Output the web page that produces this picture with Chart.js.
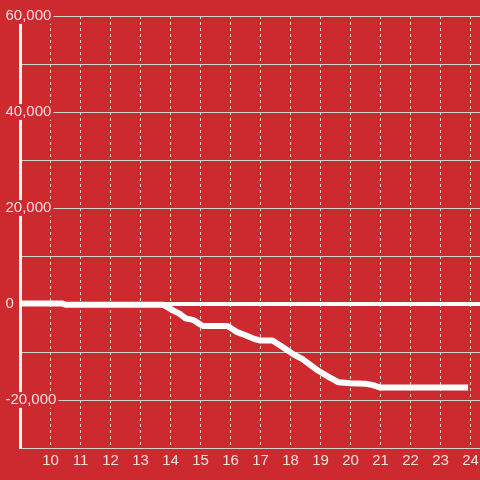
<!DOCTYPE html>
<html>
<head>
<meta charset="utf-8">
<script src="https://cdn.jsdelivr.net/npm/chart.js@4"></script>
<style>
  html, body { margin: 0; padding: 0; background: #cd2a2f; }
  #wrap { width: 480px; height: 480px; position: relative; }
</style>
</head>
<body>
<div id="wrap"><canvas id="chartCanvas"></canvas></div>
<script>
// hour of day and running total
const hours = [9.0, 10.4, 10.5, 13.75, 14.1, 14.3, 14.5, 14.75, 15.0, 15.1, 15.9, 16.2, 16.5, 16.8, 17.0, 17.4,
  17.75, 18.1, 18.4, 18.9, 19.3, 19.6, 20.0, 20.5, 20.75, 21.0, 23.92];
const totals = [100, 100, -150, -150, -1400, -2000, -3000, -3300, -4300, -4600, -4600, -5800, -6500, -7300, -7600, -7600,
  -9000, -10500, -11500, -13800, -15300, -16300, -16500, -16600, -16900, -17400, -17400];

const xMin = 9;
const xMax = 24.317;
const yMin = -30000;
const yMax = 60000;
const yLabelStep = 20000;

const labelColor = 'rgba(255,255,255,0.85)';
const gridColor = '#d2d2d2';
const bgColor = '#cd2a2f';
const font = { family: 'Liberation Sans, Arial, sans-serif', size: 15, lineHeight: 1.05 };

const points = hours.map((h, i) => ({ x: h, y: totals[i] }));

const ctx = document.getElementById('chartCanvas').getContext('2d');

new Chart(ctx, {
  type: 'line',
  data: {
    datasets: [{
      data: points,
      borderColor: '#ffffff',
      borderWidth: 6,
      borderJoinStyle: 'round',
      pointRadius: 0,
      tension: 0
    }]
  },
  options: {
    responsive: true,
    maintainAspectRatio: false,
    animation: false,
    layout: { padding: { top: 16, left: 5, right: 0, bottom: 0 } },
    plugins: { legend: { display: false }, tooltip: { enabled: false } },
    scales: {
      x: {
        type: 'linear',
        min: xMin,
        max: xMax,
        afterFit: (axis) => {
          axis.height = 32;
          axis.paddingLeft = 0;
          axis.paddingRight = 0;
        },
        border: { display: false, dash: [3, 3] },
        grid: {
          drawTicks: false,
          color: (c) => (c.tick && c.tick.value === xMin ? 'rgba(0,0,0,0)' : gridColor)
        },
        ticks: {
          stepSize: 1,
          includeBounds: false,
          padding: 5,
          color: labelColor,
          font: font,
          maxRotation: 0,
          autoSkip: false,
          callback: (v) => (v === xMin ? '' : v)
        }
      },
      y: {
        min: yMin,
        max: yMax,
        afterFit: (axis) => { axis.width = 15.5; },
        border: { display: true, color: '#f4f4f4', width: 3 },
        grid: {
          drawTicks: false,
          color: (c) => (c.tick && c.tick.value === 0 ? '#ffffff' : gridColor),
          lineWidth: (c) => (c.tick && c.tick.value === 0 ? 4 : 1)
        },
        ticks: {
          stepSize: 10000,
          mirror: true,
          padding: -15,
          color: labelColor,
          font: font,
          showLabelBackdrop: (c) => c.tick && c.tick.value % yLabelStep === 0,
          backdropColor: bgColor,
          backdropPadding: { top: 0, bottom: 0, left: 1, right: 2 },
          callback: (v) => (v % yLabelStep === 0 ? v.toLocaleString('en-US') : '')
        }
      }
    }
  }
});
</script>
</body>
</html>
